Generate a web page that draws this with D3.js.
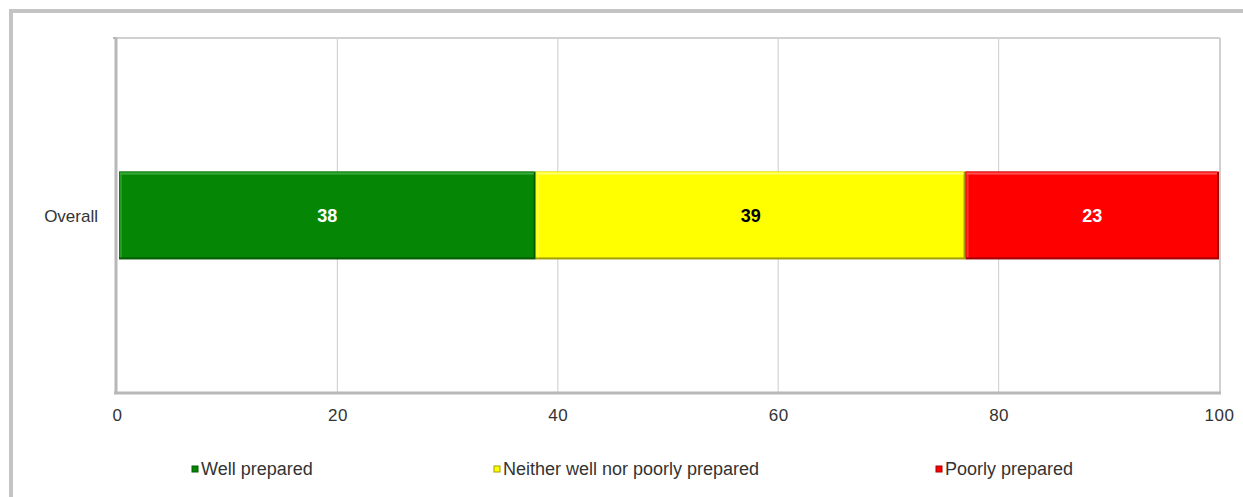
<!DOCTYPE html>
<html><head><meta charset="utf-8">
<script src="https://cdn.jsdelivr.net/npm/d3@7"></script>
<style>body{margin:0;background:#fff;}svg{display:block;font-family:"Liberation Sans",Arial,sans-serif;}</style>
</head><body>
<svg id="c" width="1243" height="497"></svg>
<script>
const categories = ["Overall"];
const seriesNames = ["Well prepared", "Neither well nor poorly prepared", "Poorly prepared"];
const seriesValues = [[38], [39], [23]];
const seriesColors = ["#058705", "#ffff00", "#ff0000"];
const darkColors = ["#035a03", "#a0a000", "#a00000"];
const lightColors = ["#3aa83a", "#ffff70", "#ff5050"];
const labelColors = ["#ffffff", "#000000", "#ffffff"];
const xTicks = [0, 20, 40, 60, 80, 100];
const legendX = [192, 494, 936];

const svg = d3.select("#c");
// outer frame
svg.append("rect").attr("x", 11).attr("y", 11).attr("width", 1260).attr("height", 520)
  .attr("fill", "none").attr("stroke", "#c4c4c4").attr("stroke-width", 4);

const L = 117, R = 1219, T = 38, B = 393;
const x = d3.scaleLinear().domain([0, 100]).range([L, R]);
const y = d3.scaleBand().domain(categories).range([T, B]).paddingInner(0).paddingOuter(1.52);

// plot border top/right
svg.append("line").attr("x1", L).attr("x2", R + 1).attr("y1", T).attr("y2", T).attr("stroke", "#d0d0d0").attr("stroke-width", 2);
svg.append("line").attr("x1", R + 1).attr("x2", R + 1).attr("y1", T).attr("y2", B).attr("stroke", "#d0d0d0").attr("stroke-width", 2);
// gridlines
svg.append("g").selectAll("line").data(xTicks.filter(d => d > 0 && d < 100)).join("line")
  .attr("x1", d => x(d)).attr("x2", d => x(d)).attr("y1", T).attr("y2", B)
  .attr("stroke", "#d4d4d4").attr("stroke-width", 1.2);

// bars
const stack = [];
let acc = 0;
seriesValues.forEach((v, i) => { stack.push({i, x0: acc, x1: acc + v[0], v: v[0]}); acc += v[0]; });
const by = y("Overall"), bh = y.bandwidth();
const g = svg.append("g");
stack.forEach(s => {
  const x0 = x(s.x0) + (s.i === 0 ? 2 : 0), x1 = x(s.x1);
  const w = x1 - x0;
  g.append("rect").attr("x", x0).attr("y", by).attr("width", w).attr("height", bh).attr("fill", darkColors[s.i]);
  g.append("rect").attr("x", x0).attr("y", by).attr("width", w - 2).attr("height", bh - 2).attr("fill", seriesColors[s.i]);
  g.append("rect").attr("x", x0 + 1).attr("y", by + 1).attr("width", w - 3).attr("height", 2).attr("fill", lightColors[s.i]);
  g.append("rect").attr("x", x0 + 1).attr("y", by + 1).attr("width", 2).attr("height", bh - 3).attr("fill", lightColors[s.i]).attr("opacity", 0.6);
  g.append("text").attr("x", (x0 + x1) / 2).attr("y", by + bh / 2 + 6)
    .attr("text-anchor", "middle").attr("font-size", 18).attr("font-weight", "bold")
    .attr("fill", labelColors[s.i]).text(s.v);
});

// axes lines
svg.append("line").attr("x1", L - 1).attr("x2", L - 1).attr("y1", T).attr("y2", B + 1).attr("stroke", "#b8b8b8").attr("stroke-width", 3);
svg.append("line").attr("x1", L - 3).attr("x2", R + 2).attr("y1", B).attr("y2", B).attr("stroke", "#b8b8b8").attr("stroke-width", 3);
svg.append("line").attr("x1", L - 4).attr("x2", L).attr("y1", T).attr("y2", T).attr("stroke", "#b8b8b8").attr("stroke-width", 2);

// x axis labels
const xAxis = d3.axisBottom(x).tickValues(xTicks).tickSize(0).tickPadding(16);
const ax = svg.append("g").attr("transform", `translate(0,${B})`).call(xAxis);
ax.select(".domain").remove();
ax.selectAll("text").attr("font-size", 17).attr("letter-spacing", 0.5).attr("fill", "#333")
  .attr("font-family", "Liberation Sans, Arial, sans-serif");

// y label
svg.append("text").attr("x", 98).attr("y", by + bh / 2 + 6).attr("text-anchor", "end")
  .attr("font-size", 17).attr("fill", "#333").text(categories[0]);

// legend
seriesNames.forEach((n, i) => {
  svg.append("rect").attr("x", legendX[i]).attr("y", 466).attr("width", 6).attr("height", 6)
    .attr("fill", seriesColors[i]).attr("stroke", darkColors[i]).attr("stroke-width", 1);
  svg.append("text").attr("x", legendX[i] + 9).attr("y", 475).attr("font-size", 18)
    .attr("fill", "#333").text(n);
});
</script>
</body></html>
